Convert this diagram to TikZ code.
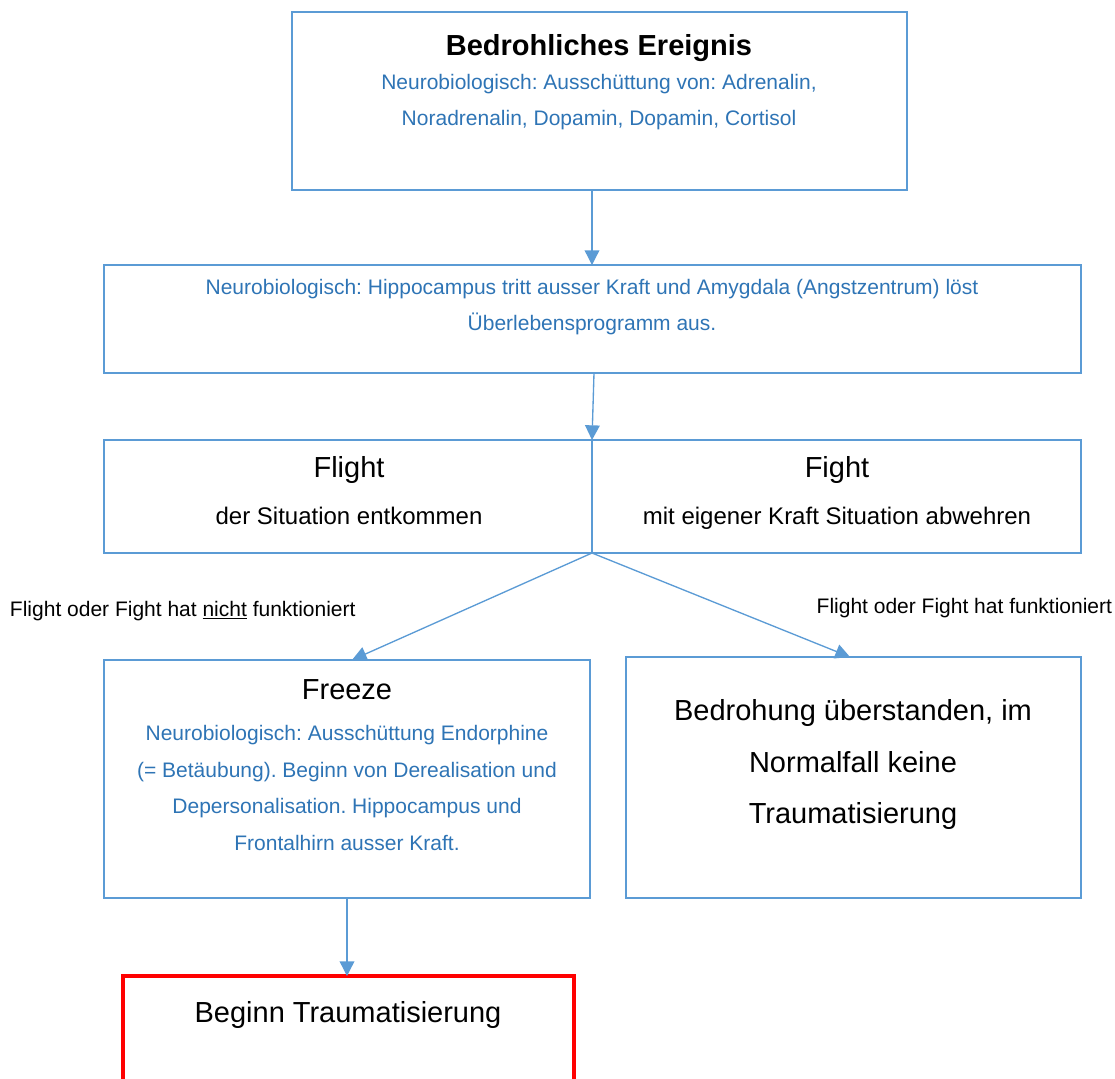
\documentclass[tikz,border=0pt]{standalone}
\usepackage{fontspec}
\setmainfont{Liberation Sans}
\usetikzlibrary{arrows.meta}
\definecolor{lineblue}{RGB}{91,155,213}
\definecolor{textblue}{RGB}{46,116,181}
\definecolor{alertred}{RGB}{255,0,0}
\frenchspacing

\begin{document}
\begin{tikzpicture}[x=0.75pt,y=-0.75pt,
  box/.style={draw=lineblue, line width=1pt, inner sep=0pt, outer sep=0pt, anchor=north west},
  redbox/.style={draw=alertred, line width=2.4pt, inner sep=0pt, outer sep=0pt, anchor=north west},
  arr/.style={draw=lineblue, line width=1pt, -{Triangle[length=11pt,width=11pt]}},
  % multi-line texts are placed by the baseline of their last line
  txt/.style={inner sep=0pt, outer sep=0pt, anchor=base, align=center},
  bluetxt/.style={txt, text=textblue, font=\fontsize{15.75}{27}\selectfont},
  bigtxt/.style={txt, font=\fontsize{21.75}{26}\selectfont},
  subtxt/.style={txt, font=\fontsize{18}{22}\selectfont},
  notetxt/.style={inner sep=0pt, outer sep=0pt, font=\fontsize{15.75}{20}\selectfont},
]
\useasboundingbox (0,0) rectangle (1115,1079);

% boxes
\node[box, minimum width=461.25pt, minimum height=133.5pt] (event) at (292,12) {};
\node[box, minimum width=732.75pt, minimum height=81pt] (brain) at (104,265) {};
\node[box, minimum width=366pt, minimum height=84.75pt] (flight) at (104,440) {};
\node[box, minimum width=366.75pt, minimum height=84.75pt] (fight) at (592,440) {};
\node[box, minimum width=364.5pt, minimum height=178.5pt] (freeze) at (104,660) {};
\node[box, minimum width=341.25pt, minimum height=180.75pt] (survived) at (626,657) {};
\node[redbox, minimum width=338.25pt, minimum height=100pt] (trauma) at (123,976) {};

% texts
\node[txt, font=\bfseries\fontsize{21.75}{26}\selectfont] (eventtitle) at (599,55) {Bedrohliches Ereignis};
\node[bluetxt] (eventtext) at (599,125.5) {Neurobiologisch: Ausschüttung von: Adrenalin,\\Noradrenalin, Dopamin, Dopamin, Cortisol};
\node[bluetxt] (braintext) at (592,330.5) {Neurobiologisch: Hippocampus tritt ausser Kraft und Amygdala (Angstzentrum) löst\\Überlebensprogramm aus.};
\node[bigtxt] (flighttitle) at (349,477) {Flight};
\node[subtxt] (flighttext) at (349,524) {der Situation entkommen};
\node[bigtxt] (fighttitle) at (837,477) {Fight};
\node[subtxt] (fighttext) at (837,524) {mit eigener Kraft Situation abwehren};
\node[notetxt, anchor=base west] (failnote) at (10,616.5) {Flight oder Fight hat \underline{nicht} funktioniert};
\node[notetxt, anchor=base east] (oknote) at (1112,613.5) {Flight oder Fight hat funktioniert};
\node[bigtxt] (freezetitle) at (347,699.5) {Freeze};
\node[bluetxt, font=\fontsize{15.75}{27.5}\selectfont] (freezetext) at (347,850.5) {Neurobiologisch: Ausschüttung Endorphine\\(= Betäubung). Beginn von Derealisation und\\Depersonalisation. Hippocampus und\\Frontalhirn ausser Kraft.};
\node[bigtxt, font=\fontsize{21.75}{38.6}\selectfont] (survivedtext) at (853,823.5) {Bedrohung überstanden, im\\Normalfall keine\\Traumatisierung};
\node[bigtxt] (traumatext) at (348,1022.5) {Beginn Traumatisierung};

% connectors
\coordinate (axis) at (592,0);
\coordinate (split) at (592,553);
\draw[arr] (event.south -| axis) -- (brain.north -| axis);
\draw[arr] ([xshift=1.5pt]brain.south -| axis) -- (flight.north east);
\draw[arr] (split) -- ([xshift=3.75pt]freeze.north);
\draw[arr] (split) -- ([xshift=-2.6pt]survived.north);
\draw[arr] (freeze.south) -- (trauma.north -| freeze.south);
\end{tikzpicture}
\end{document}
